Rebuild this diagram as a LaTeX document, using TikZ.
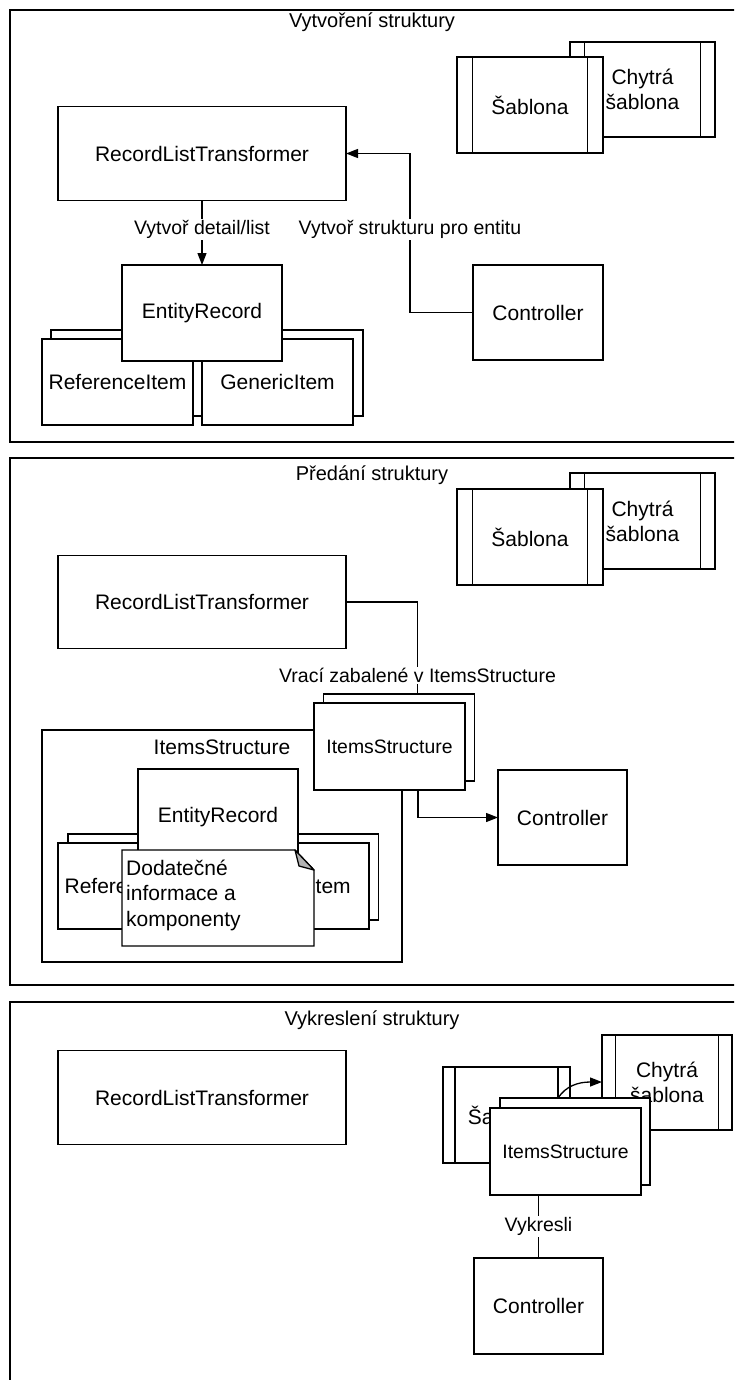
\documentclass[tikz,border=0pt]{standalone}
\usepackage{fontspec}
\setmainfont{Liberation Sans}
\usetikzlibrary{arrows.meta,calc}
\tikzset{
  ln/.style={line width=1.3pt},
  box/.style={draw, ln, fill=white, inner sep=0pt, outer sep=0pt, font=\fontsize{21}{25}\selectfont, align=center},
  smallbox/.style={box, font=\fontsize{19.4}{23}\selectfont},
  paneltitle/.style={font=\fontsize{20}{24}\selectfont, inner sep=0pt},
  lbl/.style={fill=white, inner sep=1.5pt, font=\fontsize{19.5}{23}\selectfont},
  arr/.style={ln, -{Triangle[length=12pt,width=9pt]}},
  conn/.style={ln},
}
\newcommand\procbars[2]{%
  \draw[ln] ($(#1.north west)+(#2,0)$) -- ($(#1.south west)+(#2,0)$);
  \draw[ln] ($(#1.north east)+(-#2,0)$) -- ($(#1.south east)+(-#2,0)$);}
\begin{document}
\begin{tikzpicture}[x=1pt,y=-1pt]
\useasboundingbox (0,0) rectangle (734,1380);
\clip (0,0) rectangle (734,1380);
\fill[white] (0,0) rectangle (734,1380);

% ================= Panel 1 =================
\draw[ln] (10,10) rectangle (760,442);
\node[paneltitle] (t1) at (372,22) {Vytvoření struktury};

\node[box, minimum width=145pt, minimum height=95pt] (chyt1) at (642.5,89.5) {Chytrá\\šablona};
\procbars{chyt1}{14.5}
\node[box, minimum width=146pt, minimum height=96pt] (sab1) at (530,105) {Šablona};
\procbars{sab1}{15.5}

\node[box, minimum width=288pt, minimum height=93.5pt] (rlt1) at (202,153.5) {RecordListTransformer};
\node[box, minimum width=130pt, minimum height=95pt] (ctl1) at (538,312.5) {Controller};

\node[box, minimum width=151pt, minimum height=86pt] (ref1b) at (126.5,373) {};
\node[box, minimum width=151pt, minimum height=86pt] (ref1) at (117.5,382) {ReferenceItem};
\node[box, minimum width=151pt, minimum height=86pt] (gen1b) at (287.5,373) {};
\node[box, minimum width=151pt, minimum height=86pt] (gen1) at (277.5,382) {GenericItem};
\node[box, minimum width=160pt, minimum height=96pt] (er1) at (202,313) {EntityRecord};

\draw[arr] (rlt1.south) -- node[lbl, pos=0.45] {Vytvoř detail/list} (er1.north);
\draw[arr] (ctl1.west) -- ++(-63,0) |- node[lbl, pos=0.26] {Vytvoř strukturu pro entitu} (rlt1.east);

% ================= Panel 2 =================
\draw[ln] (10,458) rectangle (760,985);
\node[paneltitle] (t2) at (372,475) {Předání struktury};

\node[box, minimum width=145pt, minimum height=96pt] (chyt2) at (642.5,521) {Chytrá\\šablona};
\procbars{chyt2}{14.5}
\node[box, minimum width=146pt, minimum height=96pt] (sab2) at (530,537) {Šablona};
\procbars{sab2}{15.5}

\node[box, minimum width=288pt, minimum height=93.5pt] (rlt2) at (202,602) {RecordListTransformer};

\node[box, minimum width=360pt, minimum height=232pt] (cont2) at (222,846) {};
\node[box, draw=none, fill=none, anchor=center] (cont2lbl) at (222,747) {ItemsStructure};

\node[box, minimum width=151pt, minimum height=86pt] (ref2b) at (143.5,877) {};
\node[box, minimum width=151pt, minimum height=86pt] (ref2) at (133.5,886) {ReferenceItem};
\node[box, minimum width=151pt, minimum height=86pt] (gen2b) at (303,877) {};
\node[box, minimum width=151pt, minimum height=86pt] (gen2) at (293.5,886) {GenericItem};
\node[box, minimum width=160pt, minimum height=96pt] (er2) at (218,817) {EntityRecord};

\draw[ln, fill=white] (122,850) -- (295,850) -- (314,870) -- (314,946) -- (122,946) -- cycle;
\draw[ln, fill=gray!60, line join=round] (295,850) -- (299,866) -- (314,870) -- cycle;
\node[anchor=west, align=left, inner sep=0pt, font=\fontsize{21}{25.5}\selectfont] (note2) at (126,895) {Dodatečné\\informace a\\komponenty};

\node[smallbox, minimum width=151pt, minimum height=87pt] (is2b) at (399,737.5) {};
\node[smallbox, minimum width=151pt, minimum height=87pt] (is2) at (389.5,746.5) {ItemsStructure};
\node[box, minimum width=129pt, minimum height=95pt] (ctl2) at (562.5,817.5) {Controller};

\coordinate (j2) at ($(is2b.north west)+(94,0)$);
\draw[conn] (rlt2.east) -| node[lbl, pos=0.9] {Vrací zabalené v ItemsStructure} (j2);
\draw[arr] ($(is2.south west)+(104,0)$) |- (ctl2.west);

% ================= Panel 3 =================
\draw[ln] (10,1002) rectangle (760,1420);
\node[paneltitle] (t3) at (372,1020) {Vykreslení struktury};

\node[box, minimum width=288pt, minimum height=93.5pt] (rlt3) at (202,1097.5) {RecordListTransformer};

\node[box, minimum width=130pt, minimum height=95pt] (chyt3) at (667,1082.5) {Chytrá\\šablona};
\procbars{chyt3}{13.5}
\node[box, minimum width=127pt, minimum height=96pt] (sab3) at (506.5,1115) {Šablona};
\procbars{sab3}{12}

\coordinate (c3s) at (558,1098);
\draw[arr] (c3s) .. controls (566,1086) and (578,1082) .. (chyt3.west |- 0,1082);

\node[smallbox, minimum width=150pt, minimum height=87pt] (is3b) at (575,1141.5) {};
\node[smallbox, minimum width=151pt, minimum height=87pt] (is3) at (565.5,1151.5) {ItemsStructure};
\node[box, minimum width=129pt, minimum height=96pt] (ctl3) at (538.5,1306) {Controller};

\draw[conn] (ctl3.north |- is3.south) -- node[lbl] {Vykresli} (ctl3.north);
\end{tikzpicture}
\end{document}
